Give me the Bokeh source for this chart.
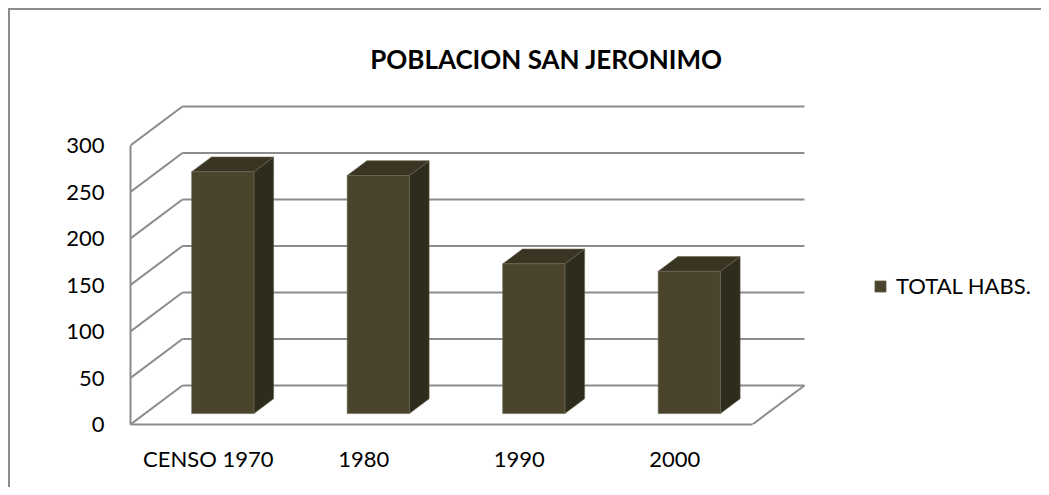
from bokeh.plotting import figure
from bokeh.models import Range1d, FixedTicker, ColumnDataSource, Legend, LegendItem, Label
from bokeh.embed import file_html
from bokeh.resources import INLINE

# ---- data ----
categories = ["CENSO 1970", "1980", "1990", "2000"]
values = [260, 256, 161, 153]
y_ticks = [0, 50, 100, 150, 200, 250, 300]
series_name = "TOTAL HABS."
title_text = "POBLACION SAN JERONIMO"

# ---- 3D projection settings ----
DX = 0.334   # depth shift (category units)
DY = 41.9    # depth shift (value units)
D0, D1 = 0.28, 0.66   # bar front / back depth fraction
BAR_W = 0.40
N = len(categories)
Y_MAX = y_ticks[-1]

GRID = "#8c8c8c"
FRONT = "#4a442d"
SIDE = "#2e2c1d"
TOP = "#3a3422"
EDGE = "#6a6650"

p = figure(width=1033, height=479, output_backend="svg", toolbar_location=None,
           title=None, x_range=Range1d(0, 913 / 155.5), y_range=Range1d(0, 414 / 0.93),
           min_border_left=120, min_border_right=0, min_border_top=0, min_border_bottom=65)
p.outline_line_color = None
p.xgrid.visible = False
p.ygrid.visible = False
p.background_fill_color = "white"
p.border_fill_color = "white"
p.styles = {"margin-left": "8px", "margin-top": "8px",
            "border-left": "2px solid #8c8c8c", "border-top": "2px solid #8c8c8c"}

# ---- walls / gridlines ----
gx, gy = [], []
for v in y_ticks:
    gx.append([DX, N + DX]); gy.append([v + DY, v + DY])      # back wall
    gx.append([0, DX]);      gy.append([v, v + DY])           # left wall
gx.append([N, N + DX]); gy.append([0, DY])                    # floor right edge
p.multi_line(gx, gy, line_color=GRID, line_width=2)

# ---- bars ----
dd_x = (D1 - D0) * DX
dd_y = (D1 - D0) * DY
lefts = [i + 0.5 - BAR_W / 2 + D0 * DX for i in range(N)]
rights = [l + BAR_W for l in lefts]
bottoms = [D0 * DY] * N
tops = [v + D0 * DY for v in values]

side_xs = [[r, r + dd_x, r + dd_x, r] for r in rights]
side_ys = [[b, b + dd_y, t + dd_y, t] for b, t in zip(bottoms, tops)]
top_xs = [[l, r, r + dd_x, l + dd_x] for l, r in zip(lefts, rights)]
top_ys = [[t, t, t + dd_y, t + dd_y] for t in tops]

p.patches(side_xs, side_ys, fill_color=SIDE, line_color=EDGE, line_width=0.6)
p.patches(top_xs, top_ys, fill_color=TOP, line_color=EDGE, line_width=0.6)
src = ColumnDataSource(dict(left=lefts, right=rights, bottom=bottoms, top=tops))
front = p.quad(left="left", right="right", bottom="bottom", top="top", source=src,
               fill_color=FRONT, line_color=EDGE, line_width=0.6)

# ---- axes ----
p.yaxis.ticker = FixedTicker(ticks=y_ticks)
p.yaxis.bounds = (0, Y_MAX)
p.yaxis.axis_line_color = GRID
p.yaxis.axis_line_width = 2
p.yaxis.major_tick_out = 0
p.yaxis.major_tick_in = 0
p.yaxis.minor_tick_out = 0
p.yaxis.minor_tick_in = 0
p.yaxis.major_label_standoff = 26
p.yaxis.major_label_text_font = "Lato"
p.yaxis.major_label_text_font_size = "22px"
p.yaxis.major_label_text_color = "#000000"

xt = [i + 0.5 for i in range(N)]
p.xaxis.ticker = FixedTicker(ticks=xt)
p.xaxis.major_label_overrides = {x: c for x, c in zip(xt, categories)}
p.xaxis.bounds = (0, N)
p.xaxis.axis_line_color = GRID
p.xaxis.axis_line_width = 2
p.xaxis.major_tick_out = 0
p.xaxis.major_tick_in = 0
p.xaxis.minor_tick_out = 0
p.xaxis.minor_tick_in = 0
p.xaxis.major_label_standoff = 20
p.xaxis.major_label_text_font = "Lato"
p.xaxis.major_label_text_font_size = "22px"
p.xaxis.major_label_text_color = "#000000"

# ---- legend ----
legend = Legend(items=[LegendItem(label=series_name, renderers=[front])],
                location=(743, 125), padding=0, margin=0, spacing=0,
                glyph_width=14, glyph_height=14, label_standoff=9,
                label_text_font="Lato", label_text_font_size="22px",
                label_text_color="#000000", border_line_color=None,
                background_fill_alpha=0)
p.add_layout(legend)

# ---- title ----
p.add_layout(Label(x=416, y=366, x_units="screen", y_units="screen", text=title_text,
                   text_align="center", text_baseline="alphabetic",
                   text_font="Lato", text_font_style="bold", text_font_size="26px",
                   text_color="#000000"))

open("out.html", "w").write(file_html(p, INLINE))
